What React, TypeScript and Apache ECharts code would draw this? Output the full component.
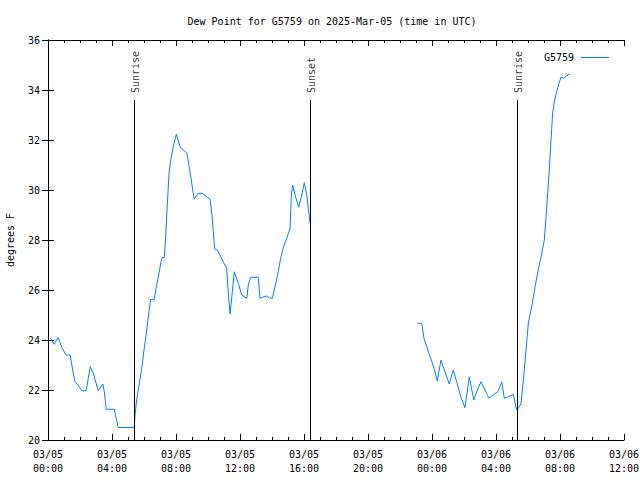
import React, { useEffect, useRef } from "react";
import * as echarts from "echarts";

// hours since 2025-03-05 00:00 UTC
const hours: number[] = [
  0.13, 0.38, 0.63, 0.89, 1.13, 1.39, 1.54, 1.69, 1.89, 2.11, 2.38, 2.48, 2.64, 2.83, 3.14, 3.42, 3.52, 3.64, 4.14, 4.39,
  5.39, 5.44, 5.54, 5.71, 5.86, 6.0, 6.17, 6.31, 6.42, 6.63, 6.75, 6.92, 7.06, 7.14, 7.27, 7.36, 7.46, 7.58, 7.71, 7.83,
  8.02, 8.14, 8.27, 8.46, 8.67, 8.79, 8.94, 9.06, 9.14, 9.21, 9.39, 9.63, 9.92, 10.13, 10.25, 10.33, 10.42, 10.58, 10.75,
  10.89, 11.06, 11.17, 11.23, 11.38, 11.48, 11.64, 11.89, 12.11, 12.42, 12.52, 12.67, 13.14, 13.25, 13.46, 13.67, 13.83,
  14.02, 14.19, 14.39, 14.54, 14.71, 14.92, 15.13, 15.21, 15.29, 15.44, 15.67, 15.86, 16.02, 16.17, 16.27, 16.38,
  20.0,
  23.08, 23.36, 23.5, 23.67, 23.88, 24.13, 24.33, 24.56, 24.77, 25.08, 25.33, 25.54, 25.81, 26.06, 26.33, 26.61, 26.79,
  27.06, 27.31, 27.56, 27.83, 28.11, 28.36, 28.52, 28.77, 29.08, 29.29, 29.39, 29.56, 29.77, 30.02, 30.23, 30.44, 30.64,
  30.86, 31.02, 31.13, 31.23, 31.33, 31.44, 31.54, 31.64, 31.79, 31.94, 32.06, 32.21, 32.42, 32.58,
];

const dewF: (number | null)[] = [
  24.1, 23.83, 24.1, 23.67, 23.4, 23.4, 22.8, 22.33, 22.2, 21.97, 21.97, 22.33, 22.93, 22.67, 21.97, 22.24, 21.93, 21.23, 21.23, 20.5,
  20.5, 21.0, 21.6, 22.27, 22.87, 23.6, 24.4, 25.13, 25.63, 25.6, 26.07, 26.6, 27.13, 27.3, 27.3, 28.2, 29.47, 30.8, 31.33, 31.73,
  32.24, 31.97, 31.71, 31.6, 31.49, 31.07, 30.47, 29.93, 29.63, 29.71, 29.87, 29.87, 29.73, 29.64, 29.0, 28.33, 27.64, 27.6, 27.4,
  27.2, 27.0, 26.87, 26.2, 25.04, 25.67, 26.73, 26.27, 25.8, 25.67, 26.2, 26.51, 26.51, 25.67, 25.73, 25.76, 25.69,
  25.67, 26.13, 26.73, 27.27, 27.71, 28.07, 28.47, 29.8, 30.2, 29.8, 29.31, 29.8, 30.29, 29.8, 29.27, 28.67,
  null,
  24.67, 24.67, 24.07, 23.73, 23.33, 22.87, 22.36, 23.2, 22.8, 22.24, 22.8, 22.33, 21.71, 21.29, 22.53, 21.6, 21.93,
  22.33, 22.0, 21.67, 21.8, 21.93, 22.33, 21.67, 21.73, 21.83, 21.2, 21.27, 21.44, 22.8, 24.67, 25.33, 26.13, 26.8,
  27.47, 28.0, 28.93, 29.87, 30.8, 32.0, 33.07, 33.53, 33.93, 34.27, 34.51, 34.47, 34.57, 34.64,
];

const sunEventNames: string[] = ["Sunrise", "Sunset", "Sunrise"];
const sunEventHours: number[] = [5.38, 16.39, 29.33];

const xTickHours: number[] = [0, 4, 8, 12, 16, 20, 24, 28, 32, 36];
const yTicks: number[] = [20, 22, 24, 26, 28, 30, 32, 34, 36];

const FONT = "DejaVu Sans Mono";

function fmtHour(h: number): string {
  const day = 5 + Math.floor(h / 24);
  const hh = Math.round(h % 24);
  return `03/${String(day).padStart(2, "0")}\n${String(hh).padStart(2, "0")}:00`;
}

export default function App() {
  const ref = useRef<HTMLDivElement>(null);
  useEffect(() => {
    if (!ref.current) return;
    const chart = echarts.init(ref.current, undefined, { renderer: "svg" });
    const lineTop = 33.6;
    const labelBase = 33.88;
    const option: any = {
      animation: false,
      backgroundColor: "#ffffff",
      textStyle: { fontFamily: FONT, color: "#000" },
      title: {
        text: "Dew Point for G5759 on 2025-Mar-05 (time in UTC)",
        left: 327,
        textAlign: "center",
        top: 11,
        textStyle: { fontFamily: FONT, fontSize: 10, fontWeight: "normal", color: "#000" },
      },
      legend: {
        data: [{ name: "G5759", icon: "rect" }],
        right: 26,
        top: 47.5,
        align: "right",
        itemWidth: 28,
        itemHeight: 1,
        itemGap: 7,
        textStyle: { fontFamily: FONT, fontSize: 10, color: "#000", padding: [0, 2, 0, 0] },
      },
      grid: {
        left: 48,
        right: 16,
        top: 40,
        bottom: 40,
        containLabel: false,
        outerBoundsMode: "none",
      },
      xAxis: [
        {
          type: "value",
          min: xTickHours[0],
          max: xTickHours[xTickHours.length - 1],
          interval: 4,
          position: "bottom",
          axisLine: { show: true, lineStyle: { color: "#000", width: 1 } },
          axisTick: { show: true, inside: true, length: 6, lineStyle: { color: "#000" } },
          minorTick: { show: true, splitNumber: 4, length: 3, lineStyle: { color: "#000" } },
          splitLine: { show: false },
          axisLabel: {
            fontFamily: FONT,
            fontSize: 10,
            color: "#000",
            margin: 7,
            lineHeight: 14,
            formatter: (v: number) => fmtHour(v),
          },
        },
        {
          type: "value",
          min: xTickHours[0],
          max: xTickHours[xTickHours.length - 1],
          interval: 4,
          position: "top",
          axisLine: { show: true, lineStyle: { color: "#000", width: 1 } },
          axisTick: { show: true, inside: true, length: 6, lineStyle: { color: "#000" } },
          minorTick: { show: true, splitNumber: 4, length: 3, lineStyle: { color: "#000" } },
          splitLine: { show: false },
          axisLabel: { show: false },
        },
      ],
      yAxis: [
        {
          type: "value",
          min: yTicks[0],
          max: yTicks[yTicks.length - 1],
          interval: 2,
          position: "left",
          name: "degrees F",
          nameLocation: "middle",
          nameGap: 33,
          nameTextStyle: { fontFamily: FONT, fontSize: 10, color: "#000" },
          axisLine: { show: true, lineStyle: { color: "#000", width: 1 } },
          axisTick: { show: true, inside: true, length: 6, lineStyle: { color: "#000" } },
          splitLine: { show: false },
          axisLabel: { fontFamily: FONT, fontSize: 10, color: "#000", margin: 8 },
        },
        {
          type: "value",
          min: yTicks[0],
          max: yTicks[yTicks.length - 1],
          interval: 2,
          position: "right",
          axisLine: { show: true, lineStyle: { color: "#000", width: 1 } },
          axisTick: { show: true, inside: true, length: 6, lineStyle: { color: "#000" } },
          splitLine: { show: false },
          axisLabel: { show: false },
        },
      ],
      series: [
        {
          name: "G5759",
          type: "line",
          xAxisIndex: 0,
          yAxisIndex: 0,
          data: hours.map((h, i) => [h, dewF[i] === null ? "-" : dewF[i]]),
          showSymbol: false,
          symbol: "none",
          connectNulls: false,
          color: "#0080ff",
          lineStyle: { color: "#0080ff", width: 1 },
          z: 3,
          markLine: {
            silent: true,
            symbol: ["none", "none"],
            lineStyle: { color: "#000", width: 1, type: "solid" },
            label: { show: false },
            data: sunEventHours.map((h) => [{ coord: [h, yTicks[0]] }, { coord: [h, lineTop] }]),
          },
        },
        {
          name: "sun",
          type: "scatter",
          xAxisIndex: 0,
          yAxisIndex: 0,
          symbolSize: 0,
          silent: true,
          data: sunEventHours.map((h, i) => [h, labelBase, sunEventNames[i]]),
          label: {
            show: true,
            position: "inside",
            rotate: 90,
            align: "left",
            verticalAlign: "middle",
            offset: [0, 1],
            fontFamily: FONT,
            fontSize: 10,
            color: "#000",
            formatter: (p: any) => p.data[2],
          },
        },
      ],
    };
    chart.setOption(option);
    return () => chart.dispose();
  }, []);
  return (
    <div
      ref={ref}
      style={{ position: "absolute", left: 0, top: 0, width: 640, height: 480 }}
    />
  );
}
